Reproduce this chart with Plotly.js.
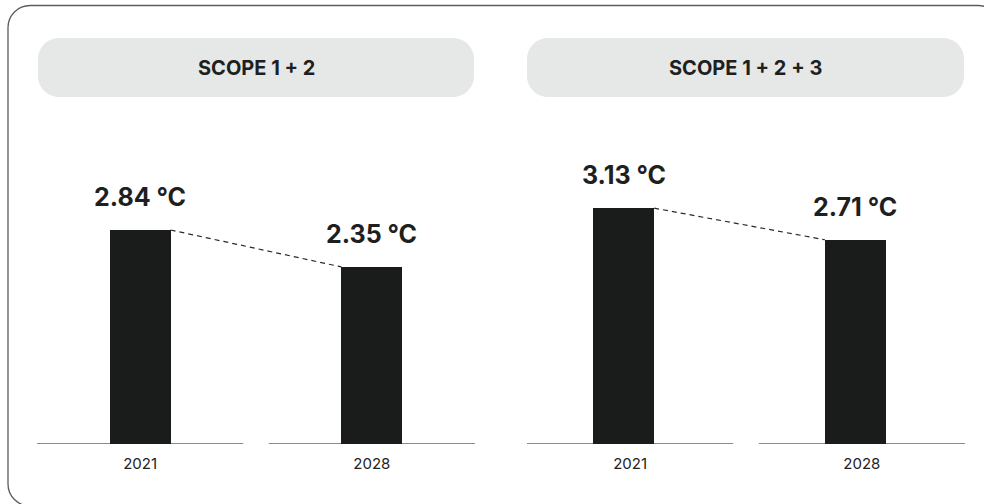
<!DOCTYPE html>
<html>
<head>
<meta charset="utf-8">
<script src="https://cdn.plot.ly/plotly-3.0.1.min.js"></script>
<style>
html,body{margin:0;padding:0;background:#fff;}
#chart{width:984px;height:504px;}
</style>
</head>
<body>
<div id="chart"></div>
<script>
// ---- data ----
const years = ['2021', '2028'];
const panelTitles = ['SCOPE 1 + 2', 'SCOPE 1 + 2 + 3'];
const scope12 = [2.84, 2.35];
const scope123 = [3.13, 2.71];
const unit = ' °C';

// ---- style / layout helpers ----
const W = 984, H = 504;
const px = x => x / W;
const py = y => 1 - y / H;
const barColor = '#1a1c1c';
const textColor = '#1e1f1f';
const barWidth = 0.263;
const xRange = [-0.445, 1.445];
const yRange = [0, 5.892];
const FONT = 'Inter, "DejaVu Sans", sans-serif';

function roundRect(x0, y0, x1, y1, r) {
  const k = 0.5523 * r;
  const P = (x, y) => px(x) + ',' + py(y);
  return 'M' + P(x0 + r, y0) +
    ' L' + P(x1 - r, y0) +
    ' C' + P(x1 - r + k, y0) + ' ' + P(x1, y0 + r - k) + ' ' + P(x1, y0 + r) +
    ' L' + P(x1, y1 - r) +
    ' C' + P(x1, y1 - r + k) + ' ' + P(x1 - r + k, y1) + ' ' + P(x1 - r, y1) +
    ' L' + P(x0 + r, y1) +
    ' C' + P(x0 + r - k, y1) + ' ' + P(x0, y1 - r + k) + ' ' + P(x0, y1 - r) +
    ' L' + P(x0, y0 + r) +
    ' C' + P(x0, y0 + r - k) + ' ' + P(x0 + r - k, y0) + ' ' + P(x0 + r, y0) + ' Z';
}

const panels = [
  {vals: scope12, xa: 'x', ya: 'y', xl: 'x3', shift: 0, pill: [38, 38, 474, 97]},
  {vals: scope123, xa: 'x2', ya: 'y2', xl: 'x4', shift: -0.028, pill: [527, 38, 964, 97]}
];

const data = [];
const annotations = [];
const shapes = [];

// outer rounded frame
shapes.push({type: 'path', xref: 'paper', yref: 'paper', layer: 'below',
  path: roundRect(8, 5.5, 1000, 506, 22),
  line: {color: '#5c5c5c', width: 1.3}, fillcolor: 'rgba(0,0,0,0)'});

panels.forEach((p, pi) => {
  // bars
  data.push({
    type: 'bar', x: years, y: p.vals, xaxis: p.xa, yaxis: p.ya,
    width: barWidth, offset: -barWidth / 2 + p.shift,
    marker: {color: barColor, line: {width: 0}},
    hoverinfo: 'skip', showlegend: false
  });
  // dashed connector between bar top corners (on an overlaid linear axis with the same range)
  data.push({
    type: 'scatter', mode: 'lines', xaxis: p.xl, yaxis: p.ya,
    x: [0 + barWidth / 2 + p.shift, years.length - 1 - barWidth / 2 + p.shift],
    y: [p.vals[0], p.vals[1]],
    line: {color: '#2a2a2a', width: 1.2, dash: '5px,4px'},
    hoverinfo: 'skip', showlegend: false
  });
  // value labels
  years.forEach((yr, i) => {
    annotations.push({
      xref: p.xa, yref: p.ya, x: i + p.shift, y: p.vals[i],
      text: p.vals[i].toFixed(2) + unit, showarrow: false,
      yanchor: 'bottom', yshift: 16,
      font: {family: FONT, size: 25, color: textColor, weight: 700}
    });
    // axis baseline segment per category
    shapes.push({type: 'line', xref: p.xa, yref: p.ya, layer: 'below',
      x0: i - 0.445, x1: i + 0.445, y0: 0, y1: 0,
      line: {color: '#8c8c8c', width: 2}});
  });
  // header pill
  const [a, b, c, d] = p.pill;
  shapes.push({type: 'path', xref: 'paper', yref: 'paper', layer: 'below',
    path: roundRect(a, b, c, d, 21), line: {width: 0}, fillcolor: '#e6e7e7'});
  annotations.push({xref: 'paper', yref: 'paper', x: px((a + c) / 2), y: py((b + d) / 2 + 1),
    text: panelTitles[pi], showarrow: false, xanchor: 'center', yanchor: 'middle',
    font: {family: FONT, size: 20, color: textColor, weight: 700}});
});

const xaxisBase = {
  type: 'category', range: xRange, showgrid: false, zeroline: false, showline: false,
  ticks: 'outside', ticklen: 6, tickcolor: 'rgba(0,0,0,0)', fixedrange: true,
  tickfont: {family: FONT, size: 15, color: '#222'}
};
const overlayBase = {
  type: 'linear', range: xRange, visible: false, showgrid: false, zeroline: false, fixedrange: true
};
const yaxisBase = {
  range: yRange, domain: [60 / H, 1], visible: false, showgrid: false,
  zeroline: false, fixedrange: true
};

const layout = {
  width: W, height: H,
  margin: {l: 0, r: 0, t: 0, b: 0},
  paper_bgcolor: '#fff', plot_bgcolor: 'rgba(0,0,0,0)',
  showlegend: false,
  xaxis: Object.assign({}, xaxisBase, {domain: [px(37), px(475)], anchor: 'y'}),
  xaxis2: Object.assign({}, xaxisBase, {domain: [px(527), px(965)], anchor: 'y2'}),
  xaxis3: Object.assign({}, overlayBase, {overlaying: 'x', anchor: 'y'}),
  xaxis4: Object.assign({}, overlayBase, {overlaying: 'x2', anchor: 'y2'}),
  yaxis: Object.assign({}, yaxisBase, {anchor: 'x'}),
  yaxis2: Object.assign({}, yaxisBase, {anchor: 'x2'}),
  shapes: shapes,
  annotations: annotations,
  bargap: 0
};

Plotly.newPlot('chart', data, layout, {staticPlot: true, displayModeBar: false});
</script>
</body>
</html>
